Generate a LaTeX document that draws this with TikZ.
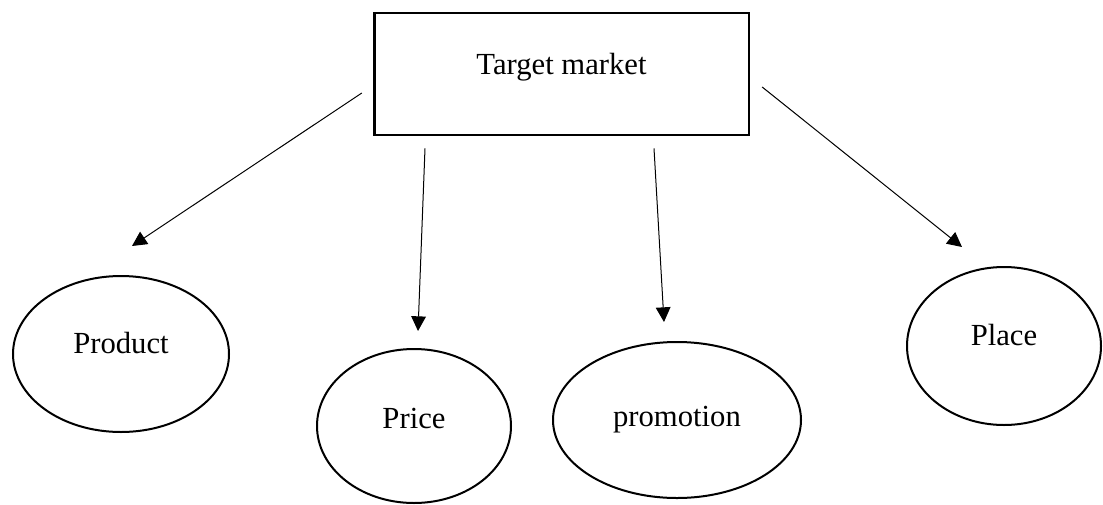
\documentclass[tikz,border=0pt]{standalone}
\usepackage{fontspec}
\setmainfont{Liberation Serif}
\usetikzlibrary{shapes.geometric,arrows.meta,calc}
\begin{document}
\begin{tikzpicture}[x=0.75pt,y=-0.75pt,
  txt/.style={font=\fontsize{23}{27}\selectfont, inner sep=0pt},
  oval/.style={draw, line width=1.5pt, ellipse, inner sep=0pt},
  arr/.style={-{Triangle[length=11pt,width=11pt]}, line width=0.75pt}]
\useasboundingbox (0,0) rectangle (1103,504);
\node[draw, line width=2pt, minimum width=281pt, minimum height=91.5pt, inner sep=0pt,
  label={[txt, yshift=5.25pt]center:Target market}] (box) at (561.5,74) {};
\node[oval, minimum width=162pt, minimum height=117pt,
  label={[txt, yshift=8.25pt]center:Product}] (prod) at (121,354) {};
\node[oval, minimum width=145.5pt, minimum height=115.5pt,
  label={[txt, yshift=6pt]center:Price}] (price) at (414,426) {};
\node[oval, minimum width=186pt, minimum height=117pt,
  label={[txt]center:promotion}] (promo) at (677,420) {};
\node[oval, minimum width=145.5pt, minimum height=118.5pt,
  label={[txt, yshift=8.5pt]center:Place}] (place) at (1004,346) {};
\coordinate (s1) at ($(box.west)+(-11,19)$);
\coordinate (s2) at ($(box.south)+(-136.5,12)$);
\coordinate (s3) at ($(box.south)+(92.5,12)$);
\coordinate (s4) at ($(box.east)+(12,13)$);
\coordinate (t1) at ($(prod.north)+(11,-29)$);
\coordinate (t2) at ($(price.north)+(4,-17)$);
\coordinate (t3) at ($(promo.north)+(-13,-19)$);
\coordinate (t4) at ($(place.north)+(-42,-19)$);
\draw[arr] (s1) -- (t1);
\draw[arr] (s2) -- (t2);
\draw[arr] (s3) -- (t3);
\draw[arr] (s4) -- (t4);
\end{tikzpicture}
\end{document}
